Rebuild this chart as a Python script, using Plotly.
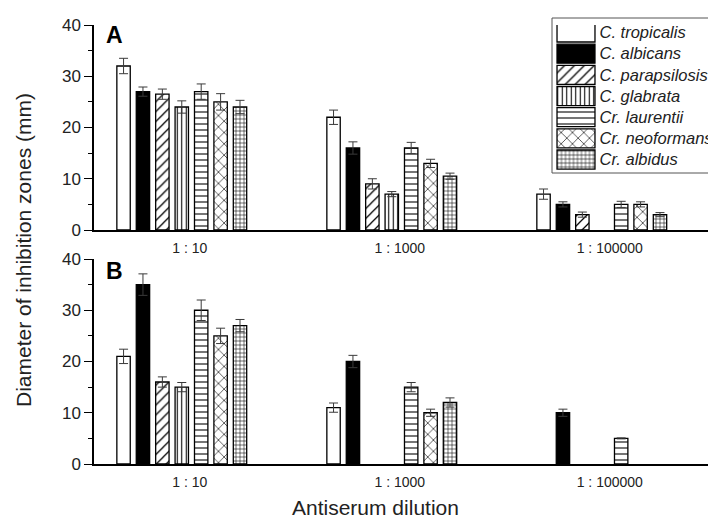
import plotly.graph_objects as go

# ---------------- data ----------------
dilutions = ["1 : 10", "1 : 1000", "1 : 100000"]
species = ["C. tropicalis", "C. albicans", "C. parapsilosis", "C. glabrata",
           "Cr. laurentii", "Cr. neoformans", "Cr. albidus"]

# Panel A means / errors (mm)
a_tropicalis = [32, 22, 7]
a_albicans = [27, 16, 5]
a_parapsilosis = [26.5, 9, 3]
a_glabrata = [24, 7, None]
a_laurentii = [27, 16, 5]
a_neoformans = [25, 13, 5]
a_albidus = [24, 10.5, 3]

a_tropicalis_err = [1.5, 1.4, 1.0]
a_albicans_err = [0.9, 1.2, 0.5]
a_parapsilosis_err = [1.0, 1.0, 0.5]
a_glabrata_err = [1.2, 0.5, None]
a_laurentii_err = [1.5, 1.1, 0.6]
a_neoformans_err = [1.6, 0.8, 0.5]
a_albidus_err = [1.3, 0.6, 0.4]

# Panel B means / errors (mm)
b_tropicalis = [21, 11, None]
b_albicans = [35, 20, 10]
b_parapsilosis = [16, None, None]
b_glabrata = [15, None, None]
b_laurentii = [30, 15, 5]
b_neoformans = [25, 10, None]
b_albidus = [27, 12, None]

b_tropicalis_err = [1.4, 0.9, None]
b_albicans_err = [2.1, 1.2, 0.7]
b_parapsilosis_err = [1.0, None, None]
b_glabrata_err = [0.9, None, None]
b_laurentii_err = [2.0, 0.9, 0.1]
b_neoformans_err = [1.5, 0.7, None]
b_albidus_err = [1.2, 0.9, None]

y_ticks = [0, 10, 20, 30, 40]
legend_swatch = [1]
legend_rows = [0, 1, 2, 3, 4, 5, 6]

panel_a = [a_tropicalis, a_albicans, a_parapsilosis, a_glabrata,
           a_laurentii, a_neoformans, a_albidus]
panel_a_err = [a_tropicalis_err, a_albicans_err, a_parapsilosis_err, a_glabrata_err,
               a_laurentii_err, a_neoformans_err, a_albidus_err]
panel_b = [b_tropicalis, b_albicans, b_parapsilosis, b_glabrata,
           b_laurentii, b_neoformans, b_albidus]
panel_b_err = [b_tropicalis_err, b_albicans_err, b_parapsilosis_err, b_glabrata_err,
               b_laurentii_err, b_neoformans_err, b_albidus_err]

# ---------------- styles ----------------
FONT = "Liberation Sans, Arial, sans-serif"
fill_colors = ["white", "black", "white", "white", "white", "white", "white"]
pattern_shapes = ["", "", "/", "|", "-", "x", "+"]
pattern_sizes = [6, 6, 7, 4.5, 6, 8, 4]
pattern_solid = [0.2, 0.2, 0.18, 0.24, 0.18, 0.15, 0.26]

# the page body adds an 8px margin; lay out in window pixels and compensate
OFF = 8
W, H = 716 - OFF, 519 - OFF
L, T = 94 - OFF, 25 - OFF
B = H - (464 - OFF)
R = 0
plot_h = H - T - B
plot_w = W - L - R


def py(pix):  # window pixel row -> paper y
    return (H - B - (pix - OFF)) / plot_h


def px(pix):  # window pixel column -> paper x
    return (pix - OFF - L) / plot_w


def marker_for(i):
    return dict(
        color=fill_colors[i],
        line=dict(color="black", width=1.3),
        pattern=dict(shape=pattern_shapes[i], size=pattern_sizes[i],
                     solidity=pattern_solid[i], fgcolor="black",
                     bgcolor=fill_colors[i], fillmode="replace"),
    )


fig = go.Figure()

for (xa, ya, vals, errs) in [("x", "y", panel_a, panel_a_err),
                             ("x2", "y2", panel_b, panel_b_err)]:
    for i, name in enumerate(species):
        fig.add_trace(go.Bar(
            x=dilutions, y=vals[i], name=name,
            xaxis=xa, yaxis=ya, showlegend=False,
            marker=marker_for(i),
            error_y=dict(type="data", array=errs[i], visible=True,
                         color="#3a3a3a", thickness=1, width=4.5),
        ))

# custom legend swatches (one bar per species on a small legend axis)
for i, name in enumerate(species):
    fig.add_trace(go.Bar(
        x=legend_swatch, y=[legend_rows[i]], orientation="h",
        width=0.9, offset=-0.45, name=name,
        xaxis="x3", yaxis="y3", showlegend=False, hoverinfo="skip",
        marker=marker_for(i),
    ))

x_range = [-0.418, 2.544]
common_x = dict(range=x_range, showline=True, linecolor="black", linewidth=1.5,
                ticks="", showgrid=False, zeroline=False,
                tickfont=dict(family=FONT, size=14, color="#222"),
                ticklabelshift=8, ticklabelstandoff=4)
common_y = dict(range=[0, 40], tickvals=y_ticks, showline=True, linecolor="black",
                linewidth=1.5, ticks="outside", ticklen=8, tickwidth=1.3,
                tickcolor="black", showgrid=False, zeroline=False,
                minor=dict(dtick=5, ticks="outside", ticklen=4, tickwidth=1.3,
                           tickcolor="black", showgrid=False),
                tickfont=dict(family=FONT, size=17, color="#222"))

rowpitch = 21.2
y3_bottom, y3_top = 170.5, 25
fig.update_layout(
    width=W, height=H,
    margin=dict(l=L, r=R, t=T, b=B),
    paper_bgcolor="white", plot_bgcolor="white",
    barmode="group", bargap=0.353, bargroupgap=0.31,
    font=dict(family=FONT, color="#222"),
    xaxis=dict(domain=[0, 1], anchor="y", **common_x),
    yaxis=dict(domain=[py(230), 1], anchor="x", **common_y),
    xaxis2=dict(domain=[0, 1], anchor="y2", **common_x),
    yaxis2=dict(domain=[0, py(259)], anchor="x2", **common_y),
    xaxis3=dict(domain=[px(555.5), px(596.5)], anchor="y3", range=[-0.04, 1.04],
                visible=False),
    yaxis3=dict(domain=[py(y3_bottom), 1], anchor="x3", side="right",
                range=[6 + (y3_bottom - 159.5) / rowpitch, -(32.5 - y3_top) / rowpitch],
                tickvals=legend_rows, ticktext=["<i>%s</i>" % s for s in species],
                showline=False, ticks="", showgrid=False, zeroline=False,
                ticklabelstandoff=2,
                tickfont=dict(family=FONT, size=16.5, color="#222")),
    shapes=[dict(type="rect", xref="paper", yref="paper",
                 x0=px(552), x1=1.02, y0=py(173), y1=py(18),
                 line=dict(color="#555", width=1), fillcolor="rgba(0,0,0,0)",
                 layer="below")],
    annotations=[
        dict(text="<b>A</b>", xref="paper", yref="paper", x=px(104), y=py(35),
             xanchor="left", yanchor="middle", showarrow=False,
             font=dict(family=FONT, size=23, color="black")),
        dict(text="<b>B</b>", xref="paper", yref="paper", x=px(104), y=py(271),
             xanchor="left", yanchor="middle", showarrow=False,
             font=dict(family=FONT, size=23, color="black")),
        dict(text="Diameter of inhibition zones (mm)", xref="paper", yref="paper",
             x=px(23), y=py(250), textangle=-90, showarrow=False,
             xanchor="center", yanchor="middle",
             font=dict(family=FONT, size=21, color="#222")),
        dict(text="Antiserum dilution", xref="paper", yref="paper",
             x=px(375.5), y=py(508), showarrow=False,
             xanchor="center", yanchor="middle",
             font=dict(family=FONT, size=21, color="#222")),
    ],
)

fig.write_html("out.html")
